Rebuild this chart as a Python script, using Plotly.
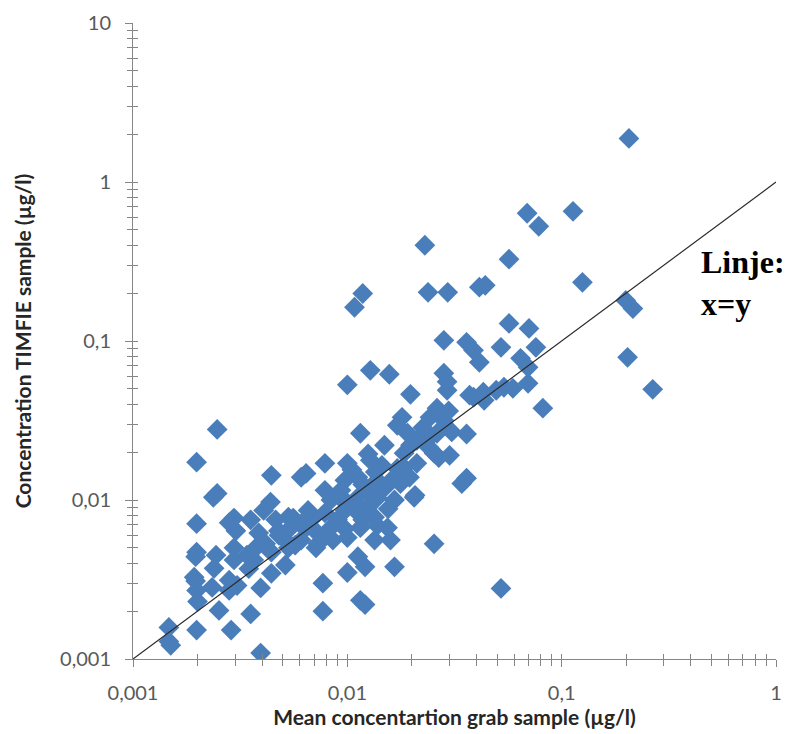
import plotly.graph_objects as go

# Mean concentration in grab samples (µg/l)
grab_mean = [
    0.00147, 0.00147, 0.00150, 0.00198, 0.00198, 0.00247, 0.00247, 0.00237, 0.00198, 0.00198,
    0.00196, 0.00193, 0.00196, 0.00198, 0.00200, 0.00244, 0.00239, 0.00234, 0.00252, 0.00287,
    0.00354, 0.00394, 0.00281, 0.00296, 0.00302, 0.00296, 0.00296, 0.00281, 0.00306, 0.00281,
    0.00347, 0.00394, 0.00442, 0.00514, 0.00442, 0.00609, 0.00642, 0.00786, 0.00769, 0.00769,
    0.00714, 0.00438, 0.00407, 0.00354, 0.00559, 0.00692, 0.00386, 0.00477, 0.00514, 0.00374,
    0.00416, 0.00366, 0.00442, 0.00635, 0.00571, 0.00609, 0.00531, 0.00463,
    0.0100, 0.0157, 0.0128, 0.0197, 0.0180, 0.0171, 0.0115, 0.0191, 0.0211, 0.0149,
    0.0100, 0.0128, 0.0171, 0.0195, 0.0112, 0.00974, 0.00786, 0.0138, 0.00934, 0.0124,
    0.0177, 0.0112, 0.00838, 0.0100, 0.0138, 0.0166, 0.0205, 0.00656, 0.00786, 0.00974,
    0.0112, 0.0134, 0.00838, 0.00974, 0.0115, 0.0138, 0.0154, 0.00856, 0.0100, 0.0134,
    0.0159, 0.00729, 0.00609, 0.00531, 0.0112, 0.0121, 0.0100, 0.0166, 0.0115, 0.0121,
    0.0254, 0.0282, 0.0292, 0.0388, 0.0413, 0.0372, 0.0262, 0.0297, 0.0282, 0.0243,
    0.0262, 0.0307, 0.0360, 0.0254, 0.0300, 0.0342, 0.0360, 0.0207, 0.0521,
    0.0568, 0.0704, 0.0282, 0.0360, 0.0521, 0.0758, 0.0643, 0.0697, 0.0292, 0.0388,
    0.0431, 0.0435, 0.0495, 0.0538, 0.0592, 0.0697, 0.0817, 0.0243, 0.0197, 0.0184,
    0.0267, 0.0211, 0.0184,
    0.206, 0.113, 0.0690, 0.0782, 0.125, 0.0568, 0.0230, 0.0118, 0.0108, 0.0238,
    0.0294, 0.0413, 0.0440, 0.199, 0.215, 0.203, 0.266,
    0.0125, 0.0145, 0.0105, 0.0135, 0.0118, 0.0150, 0.0162, 0.0095, 0.0108, 0.0125,
    0.0090, 0.0118, 0.0155, 0.0070, 0.0080, 0.0055, 0.0048, 0.0034, 0.0225, 0.0240,
]

# Concentration in TIMFIE samples (µg/l)
timfie = [
    0.00158, 0.00129, 0.00122, 0.00152, 0.0173, 0.0278, 0.0110, 0.0104, 0.0071, 0.0047,
    0.0044, 0.00327, 0.00309, 0.0027, 0.00230, 0.0045, 0.00372, 0.00282, 0.00202, 0.00152,
    0.00192, 0.00109, 0.0072, 0.0077, 0.0064, 0.0050, 0.0042, 0.00313, 0.0029, 0.0027,
    0.0037, 0.0028, 0.00346, 0.0039, 0.0143, 0.0139, 0.0147, 0.0170, 0.0030, 0.0020,
    0.0050, 0.0097, 0.0086, 0.0075, 0.0077, 0.0077, 0.0062, 0.0064, 0.0056, 0.0050,
    0.0053, 0.0042, 0.0047, 0.0066, 0.0052, 0.0071, 0.0078, 0.0075,
    0.053, 0.0618, 0.0654, 0.0462, 0.0331, 0.0295, 0.0263, 0.0263, 0.0237, 0.0221,
    0.0170, 0.0178, 0.0158, 0.0139, 0.0139, 0.0133, 0.0115, 0.0133, 0.0115, 0.0115,
    0.0127, 0.0104, 0.0100, 0.0096, 0.0103, 0.0100, 0.0104, 0.0086, 0.0083, 0.0086,
    0.0083, 0.0078, 0.0067, 0.0066, 0.0067, 0.0069, 0.0067, 0.0056, 0.0058, 0.0056,
    0.0056, 0.0053, 0.0056, 0.0050, 0.0044, 0.0038, 0.0035, 0.0038, 0.00234, 0.00220,
    0.0053, 0.0627, 0.0555, 0.0874, 0.0735, 0.0456, 0.0378, 0.0363, 0.0317, 0.0248,
    0.0263, 0.0268, 0.0260, 0.0197, 0.0191, 0.0127, 0.0137, 0.0107, 0.00278,
    0.129, 0.120, 0.101, 0.0981, 0.0913, 0.0913, 0.0778, 0.0683, 0.0490, 0.0443,
    0.0476, 0.0424, 0.0490, 0.0512, 0.0504, 0.0542, 0.0378, 0.0331, 0.0221, 0.0197,
    0.0185, 0.0170, 0.0160,
    1.88, 0.654, 0.636, 0.527, 0.234, 0.327, 0.400, 0.199, 0.163, 0.2025,
    0.2025, 0.218, 0.224, 0.180, 0.160, 0.0790, 0.0497,
    0.0195, 0.0165, 0.0155, 0.0150, 0.0125, 0.0120, 0.0135, 0.0100, 0.0092, 0.0090,
    0.0075, 0.0075, 0.0088, 0.0065, 0.0060, 0.0068, 0.0060, 0.0045, 0.0285, 0.0215,
]

# Reference line x = y
line_x = [0.001, 1]
line_y = [0.001, 1]

x_tickvals = [0.001, 0.01, 0.1, 1]
x_ticktext = ["0,001", "0,01", "0,1", "1"]
y_tickvals = [0.001, 0.01, 0.1, 1, 10]
y_ticktext = ["0,001", "0,01", "0,1", "1", "10"]
x_minor = [m * 10.0 ** e for e in range(-3, 0) for m in range(2, 10)]
y_minor = [m * 10.0 ** e for e in range(-3, 1) for m in range(2, 10)]

AX = "#868686"
FONT = "Lato"

fig = go.Figure()
fig.add_trace(go.Scatter(
    x=grab_mean, y=timfie, mode="markers",
    marker=dict(symbol="diamond", size=16, color="#4A7EBB", line=dict(width=0)),
    showlegend=False, hoverinfo="x+y",
))
fig.add_trace(go.Scatter(
    x=line_x, y=line_y, mode="lines",
    line=dict(color="#2b2b2b", width=1.2),
    showlegend=False, hoverinfo="skip",
))
# empty trace to activate overlay axes (inner half of crossing ticks)
fig.add_trace(go.Scatter(x=[], y=[], xaxis="x2", yaxis="y2", showlegend=False, hoverinfo="skip"))

common = dict(type="log", showgrid=False, zeroline=False, linecolor=AX, linewidth=1,
              tickcolor=AX, tickwidth=1, mirror=False)

fig.update_layout(
    width=789, height=734,
    margin=dict(l=133, r=7, t=23, b=75),
    paper_bgcolor="white", plot_bgcolor="white",
    font=dict(family=FONT, color="#595959"),
    xaxis=dict(
        **common, range=[-3, 0], showline=True,
        tickmode="array", tickvals=x_tickvals, ticktext=x_ticktext,
        ticks="outside", ticklen=7,
        minor=dict(tickmode="array", tickvals=x_minor, ticks="outside", ticklen=6,
                   tickcolor=AX, tickwidth=1, showgrid=False),
        tickfont=dict(family=FONT, size=20, color="#595959"),
        ticklabelstandoff=9,
        title=dict(text="<b>Mean concentartion grab sample (µg/l)</b>",
                   font=dict(family=FONT, size=21, color="#262626"), standoff=6),
    ),
    yaxis=dict(
        **common, range=[-3, 1], showline=True,
        tickmode="array", tickvals=y_tickvals, ticktext=y_ticktext,
        ticks="outside", ticklen=7,
        minor=dict(tickmode="array", tickvals=y_minor, ticks="outside", ticklen=5,
                   tickcolor=AX, tickwidth=1, showgrid=False),
        tickfont=dict(family=FONT, size=20, color="#595959"),
        ticklabelstandoff=10,
        title=dict(text="<b>Concentration TIMFIE sample (µg/l)</b>",
                   font=dict(family=FONT, size=21, color="#262626"), standoff=22),
    ),
    xaxis2=dict(
        **common, range=[-3, 0], overlaying="x", anchor="y", side="bottom", showline=False,
        tickmode="array", tickvals=x_tickvals, ticks="inside", ticklen=5, showticklabels=False,
        minor=dict(tickmode="array", tickvals=x_minor, ticks="inside", ticklen=5,
                   tickcolor=AX, tickwidth=1, showgrid=False),
    ),
    yaxis2=dict(
        **common, range=[-3, 1], overlaying="y", anchor="x", side="left", showline=False,
        tickmode="array", tickvals=y_tickvals, ticks="inside", ticklen=5, showticklabels=False,
        minor=dict(tickmode="array", tickvals=y_minor, ticks="inside", ticklen=5,
                   tickcolor=AX, tickwidth=1, showgrid=False),
    ),
    annotations=[
        dict(text="<b>Linje:</b>", xref="paper", yref="paper", x=0.881, y=0.624,
             xanchor="left", yanchor="middle", showarrow=False,
             font=dict(family="Liberation Serif", size=32, color="black")),
        dict(text="<b>x=y</b>", xref="paper", yref="paper", x=0.881, y=0.558,
             xanchor="left", yanchor="middle", showarrow=False,
             font=dict(family="Liberation Serif", size=32, color="black")),
    ],
)

fig.write_html("out.html")
